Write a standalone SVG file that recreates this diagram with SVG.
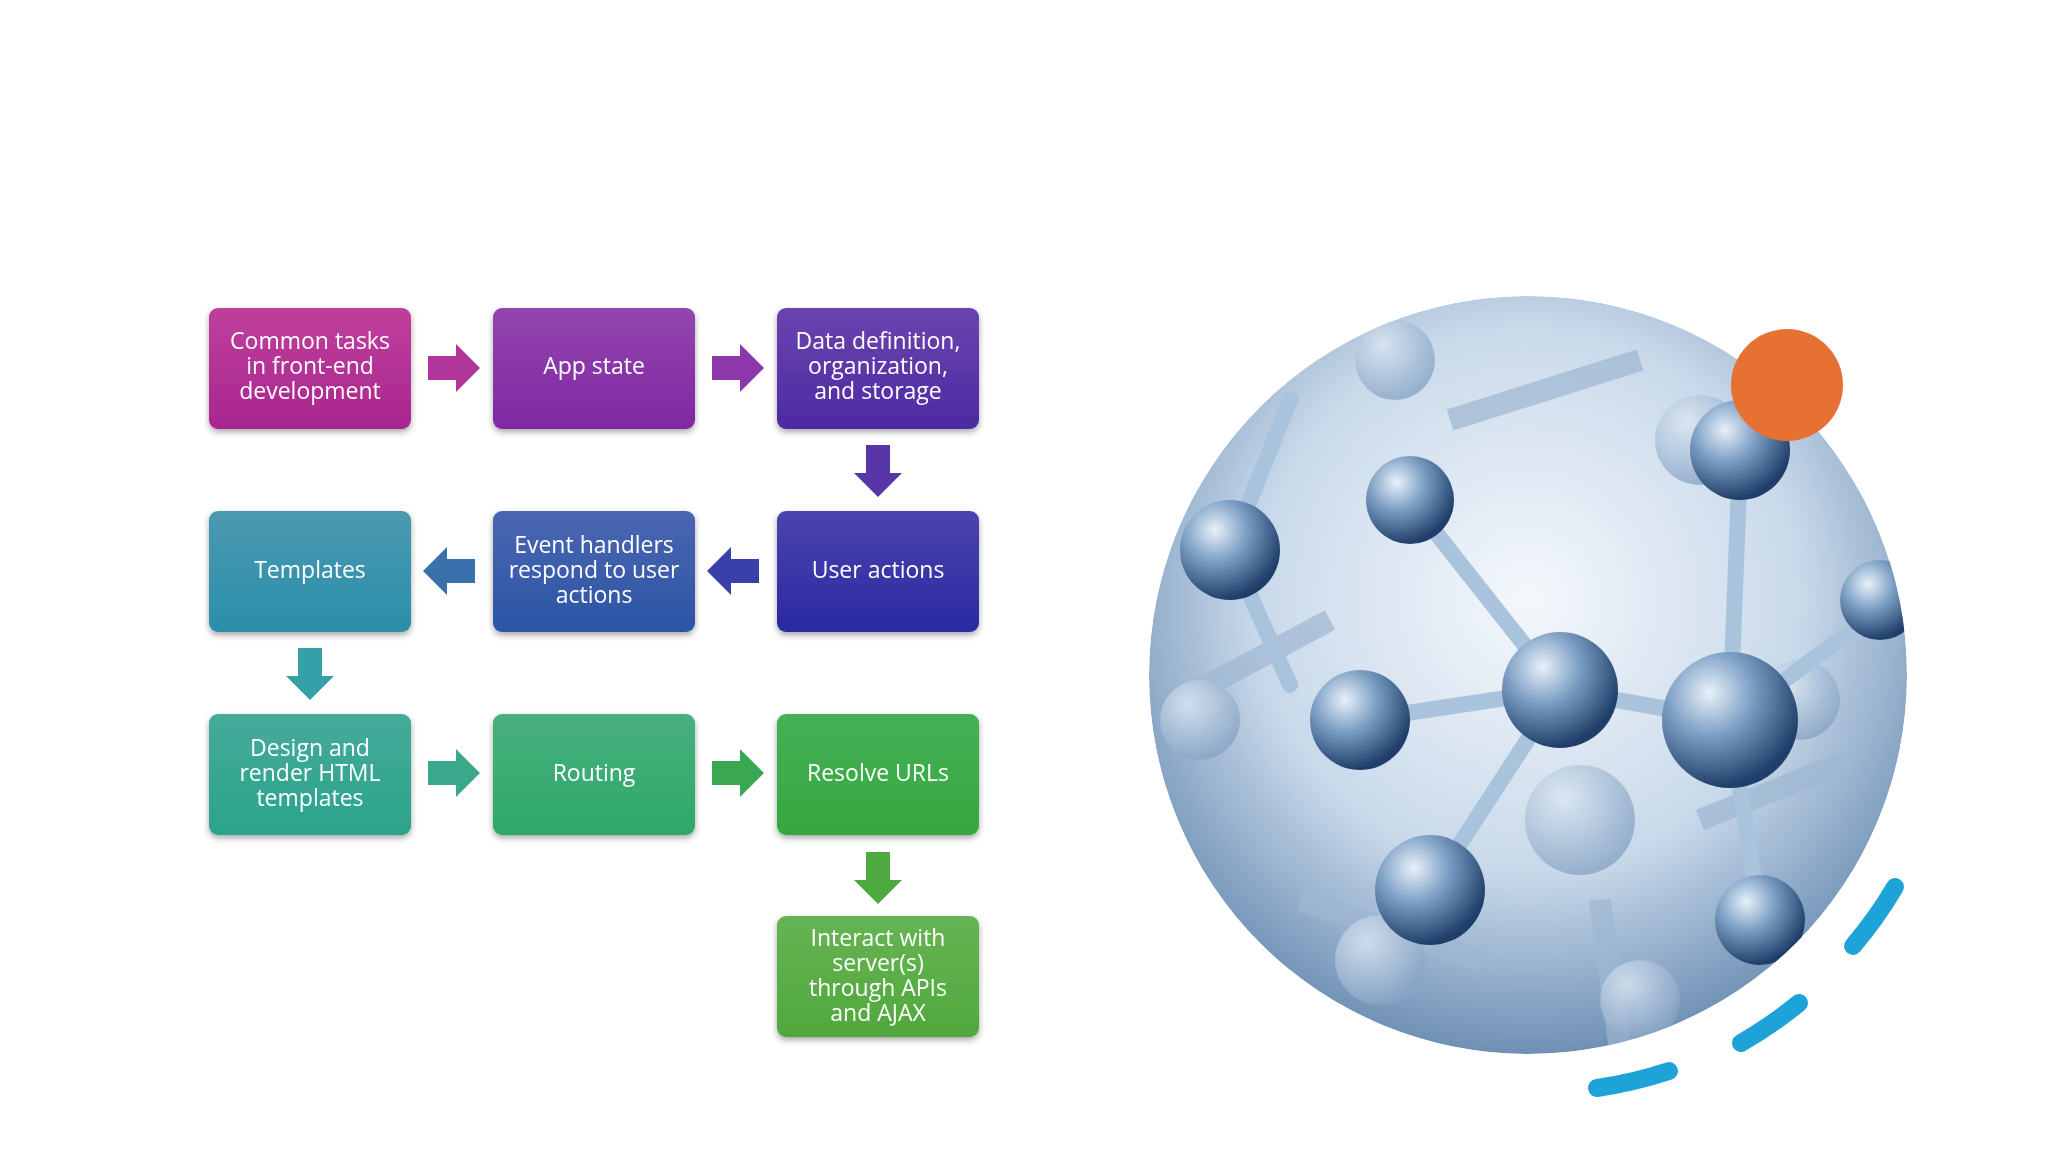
<svg xmlns="http://www.w3.org/2000/svg" width="2048" height="1152" viewBox="0 0 2048 1152">
<defs>
<style>
.t{font-family:"Open Sans","Noto Sans",sans-serif;font-size:23px;fill:#fff;text-anchor:middle}
.box{filter:url(#sh)}
</style>
<filter id="sh" x="-10%" y="-10%" width="120%" height="130%"><feDropShadow dx="0" dy="3" stdDeviation="3" flood-opacity="0.35"/></filter>
<linearGradient id="g1" x1="0" y1="0" x2="0" y2="1"><stop offset="0" stop-color="#c03f9c"/><stop offset="1" stop-color="#a8268f"/></linearGradient>
<linearGradient id="g2" x1="0" y1="0" x2="0" y2="1"><stop offset="0" stop-color="#9345ad"/><stop offset="1" stop-color="#8027a4"/></linearGradient>
<linearGradient id="g3" x1="0" y1="0" x2="0" y2="1"><stop offset="0" stop-color="#6a44ae"/><stop offset="1" stop-color="#4d2aa2"/></linearGradient>
<linearGradient id="g4" x1="0" y1="0" x2="0" y2="1"><stop offset="0" stop-color="#4a44ae"/><stop offset="1" stop-color="#2a29a2"/></linearGradient>
<linearGradient id="g5" x1="0" y1="0" x2="0" y2="1"><stop offset="0" stop-color="#4a66b0"/><stop offset="1" stop-color="#2c55a6"/></linearGradient>
<linearGradient id="g6" x1="0" y1="0" x2="0" y2="1"><stop offset="0" stop-color="#4a9ab0"/><stop offset="1" stop-color="#2a8eaa"/></linearGradient>
<linearGradient id="g7" x1="0" y1="0" x2="0" y2="1"><stop offset="0" stop-color="#45aa9a"/><stop offset="1" stop-color="#2aa48a"/></linearGradient>
<linearGradient id="g8" x1="0" y1="0" x2="0" y2="1"><stop offset="0" stop-color="#48b07e"/><stop offset="1" stop-color="#2ea86a"/></linearGradient>
<linearGradient id="g9" x1="0" y1="0" x2="0" y2="1"><stop offset="0" stop-color="#45b058"/><stop offset="1" stop-color="#35a83e"/></linearGradient>
<linearGradient id="g10" x1="0" y1="0" x2="0" y2="1"><stop offset="0" stop-color="#66b454"/><stop offset="1" stop-color="#50a83c"/></linearGradient>
<radialGradient id="bg" cx="0.5" cy="0.4" r="0.6"><stop offset="0" stop-color="#f4f8fc"/><stop offset="0.6" stop-color="#c9d9ea"/><stop offset="1" stop-color="#6f90b5"/></radialGradient>
<radialGradient id="ball" cx="0.35" cy="0.3" r="0.7"><stop offset="0" stop-color="#e8f1fa"/><stop offset="0.45" stop-color="#7d9fc4"/><stop offset="1" stop-color="#1f3f6a"/></radialGradient>
<radialGradient id="ballf" cx="0.35" cy="0.3" r="0.7"><stop offset="0" stop-color="#dde8f3"/><stop offset="1" stop-color="#8aa6c6"/></radialGradient>
<clipPath id="cc"><circle cx="1528" cy="675" r="379"/></clipPath>
<polygon id="ar" points="0,-12 28,-12 28,-24 52,0 28,24 28,12 0,12"/>
</defs>
<rect width="2048" height="1152" fill="#fff"/>

<g id="photo" clip-path="url(#cc)">
<circle cx="1528" cy="675" r="379" fill="url(#bg)"/>
<g stroke="#9fb7d2" stroke-width="22" opacity="0.7">
<line x1="1180" y1="700" x2="1330" y2="620"/><line x1="1450" y1="420" x2="1640" y2="360"/>
<line x1="1300" y1="900" x2="1480" y2="960"/><line x1="1700" y1="820" x2="1850" y2="760"/>
<line x1="1600" y1="900" x2="1620" y2="1050"/>
</g>
<g fill="url(#ballf)" opacity="0.8">
<circle cx="1395" cy="360" r="40"/><circle cx="1700" cy="440" r="45"/><circle cx="1200" cy="720" r="40"/>
<circle cx="1580" cy="820" r="55"/><circle cx="1800" cy="700" r="40"/><circle cx="1380" cy="960" r="45"/><circle cx="1640" cy="1000" r="40"/>
</g>
<g stroke="#a9c3dd" stroke-width="16" stroke-linecap="round">
<line x1="1410" y1="500" x2="1560" y2="690"/><line x1="1560" y1="690" x2="1360" y2="720"/>
<line x1="1560" y1="690" x2="1430" y2="890"/><line x1="1560" y1="690" x2="1730" y2="720"/>
<line x1="1730" y1="720" x2="1880" y2="610"/><line x1="1730" y1="720" x2="1760" y2="920"/>
<line x1="1230" y1="550" x2="1290" y2="685"/><line x1="1230" y1="550" x2="1290" y2="400"/>
<line x1="1730" y1="720" x2="1740" y2="460"/>
</g>
<g fill="url(#ball)">
<circle cx="1410" cy="500" r="44"/><circle cx="1560" cy="690" r="58"/><circle cx="1730" cy="720" r="68"/>
<circle cx="1360" cy="720" r="50"/><circle cx="1430" cy="890" r="55"/><circle cx="1230" cy="550" r="50"/>
<circle cx="1880" cy="600" r="40"/><circle cx="1760" cy="920" r="45"/><circle cx="1740" cy="450" r="50"/>
<circle cx="1190" cy="440" r="30"/>
</g>
</g>
<circle cx="1787" cy="385" r="56" fill="#e77132"/>
<g fill="none" stroke="#1ea3d8" stroke-width="18" stroke-linecap="round">
<path d="M1895,887 A424,424 0 0 1 1853,946"/>
<path d="M1799,1003 A424,424 0 0 1 1741,1043"/>
<path d="M1669,1071 A424,424 0 0 1 1597,1088"/>
</g>

<g id="connectors">
<use href="#ar" x="428" y="368" fill="#b0369a"/>
<use href="#ar" x="712" y="368" fill="#8a38aa"/>
<use href="#ar" transform="translate(878,445) rotate(90)" fill="#5836a8"/>
<use href="#ar" transform="translate(759,571) rotate(180)" fill="#3a40aa"/>
<use href="#ar" transform="translate(475,571) rotate(180)" fill="#3a70ac"/>
<use href="#ar" transform="translate(310,648) rotate(90)" fill="#35a0a8"/>
<use href="#ar" x="428" y="773" fill="#3aa88a"/>
<use href="#ar" x="712" y="773" fill="#3aa852"/>
<use href="#ar" transform="translate(878,852) rotate(90)" fill="#4eaa40"/>
</g>

<g id="n1" class="box"><rect x="209" y="308" width="202" height="121" rx="9" fill="url(#g1)"/>
<text class="t" x="310" y="349">Common tasks</text><text class="t" x="310" y="374">in front-end</text><text class="t" x="310" y="399">development</text></g>
<g id="n2" class="box"><rect x="493" y="308" width="202" height="121" rx="9" fill="url(#g2)"/>
<text class="t" x="594" y="374">App state</text></g>
<g id="n3" class="box"><rect x="777" y="308" width="202" height="121" rx="9" fill="url(#g3)"/>
<text class="t" x="878" y="349">Data definition,</text><text class="t" x="878" y="374">organization,</text><text class="t" x="878" y="399">and storage</text></g>
<g id="n4" class="box"><rect x="777" y="511" width="202" height="121" rx="9" fill="url(#g4)"/>
<text class="t" x="878" y="578">User actions</text></g>
<g id="n5" class="box"><rect x="493" y="511" width="202" height="121" rx="9" fill="url(#g5)"/>
<text class="t" x="594" y="553">Event handlers</text><text class="t" x="594" y="578">respond to user</text><text class="t" x="594" y="603">actions</text></g>
<g id="n6" class="box"><rect x="209" y="511" width="202" height="121" rx="9" fill="url(#g6)"/>
<text class="t" x="310" y="578">Templates</text></g>
<g id="n7" class="box"><rect x="209" y="714" width="202" height="121" rx="9" fill="url(#g7)"/>
<text class="t" x="310" y="756">Design and</text><text class="t" x="310" y="781">render HTML</text><text class="t" x="310" y="806">templates</text></g>
<g id="n8" class="box"><rect x="493" y="714" width="202" height="121" rx="9" fill="url(#g8)"/>
<text class="t" x="594" y="781">Routing</text></g>
<g id="n9" class="box"><rect x="777" y="714" width="202" height="121" rx="9" fill="url(#g9)"/>
<text class="t" x="878" y="781">Resolve URLs</text></g>
<g id="n10" class="box"><rect x="777" y="916" width="202" height="121" rx="9" fill="url(#g10)"/>
<text class="t" x="878" y="946">Interact with</text><text class="t" x="878" y="971">server(s)</text><text class="t" x="878" y="996">through APIs</text><text class="t" x="878" y="1021">and AJAX</text></g>
</svg>
